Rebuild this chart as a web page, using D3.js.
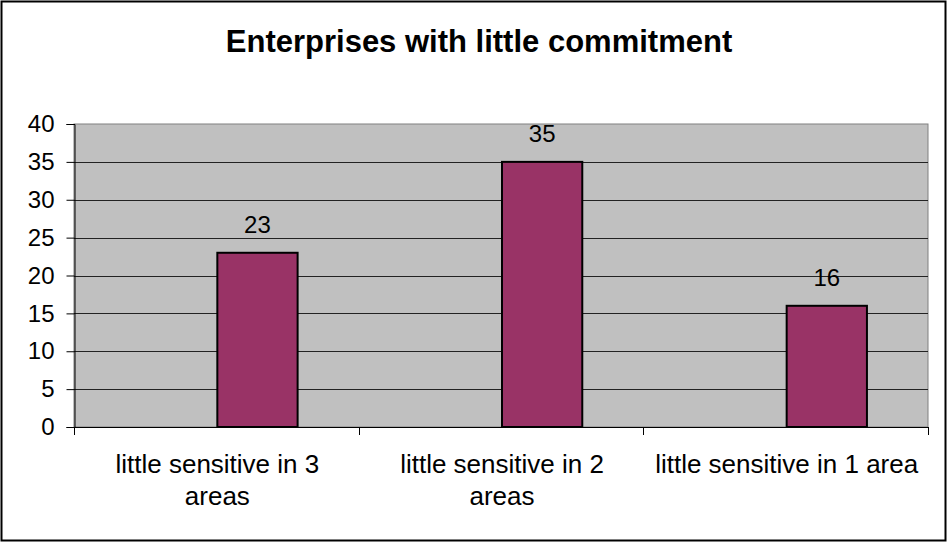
<!DOCTYPE html>
<html>
<head>
<meta charset="utf-8">
<script src="https://cdn.jsdelivr.net/npm/d3@7"></script>
<style>
  html, body { margin: 0; padding: 0; background: #fff; }
  svg { display: block; font-family: "Liberation Sans", Arial, sans-serif; }
</style>
</head>
<body>
<svg id="chart" width="947" height="542"></svg>
<script>
const chartTitle = "Enterprises with little commitment";
const categories = [["little sensitive in 3", "areas"], ["little sensitive in 2", "areas"], ["little sensitive in 1 area"]];
const values = [23, 35, 16];
const yTicks = [0, 5, 10, 15, 20, 25, 30, 35, 40];

const svg = d3.select("#chart");
const W = 947, H = 542;
const plot = { left: 74, right: 928, top: 124, bottom: 427 };

// outer frame
svg.append("rect").attr("x", 1.5).attr("y", 1.5).attr("width", W - 3).attr("height", H - 3)
  .attr("fill", "#fff").attr("stroke", "#000").attr("stroke-width", 2);

svg.append("text").attr("x", 479).attr("y", 52).attr("text-anchor", "middle")
  .attr("font-size", 31).attr("font-weight", "bold").text(chartTitle);

const x = d3.scaleBand().domain(d3.range(categories.length)).range([plot.left, plot.right]).padding(0);
const y = d3.scaleLinear().domain([0, 40]).range([plot.bottom, plot.top]);

// plot background
svg.append("rect").attr("x", plot.left).attr("y", plot.top)
  .attr("width", plot.right - plot.left).attr("height", plot.bottom - plot.top)
  .attr("fill", "#c0c0c0").attr("stroke", "#808080").attr("stroke-width", 1);

// gridlines
svg.append("g").selectAll("line").data(yTicks.filter(t => t > 0 && t < 40)).join("line")
  .attr("x1", plot.left).attr("x2", plot.right)
  .attr("y1", d => Math.round(y(d)) + 0.5).attr("y2", d => Math.round(y(d)) + 0.5)
  .attr("stroke", "#222").attr("stroke-width", 1);

// y axis
const yAxis = svg.append("g").attr("transform", `translate(${plot.left + 0.5},0)`)
  .call(d3.axisLeft(y).tickValues(yTicks).tickSize(8).tickPadding(12));
yAxis.select(".domain").attr("stroke", "#000");
yAxis.selectAll(".tick line").attr("stroke", "#000");
yAxis.selectAll("text").attr("font-size", 24).attr("fill", "#000")
  .attr("font-family", "Liberation Sans, Arial, sans-serif");

// x axis
const xAxisG = svg.append("g");
xAxisG.append("line").attr("x1", plot.left).attr("x2", plot.right)
  .attr("y1", plot.bottom + 0.5).attr("y2", plot.bottom + 0.5).attr("stroke", "#000");
const bounds = d3.range(categories.length + 1).map(i => i < categories.length ? x(i) : x(i - 1) + x.bandwidth());
xAxisG.selectAll("line.tk").data(bounds).join("line").attr("class", "tk")
  .attr("x1", d => Math.round(d) + 0.5).attr("x2", d => Math.round(d) + 0.5)
  .attr("y1", plot.bottom).attr("y2", plot.bottom + 8).attr("stroke", "#000");

const labels = svg.append("g").selectAll("text").data(categories).join("text")
  .attr("text-anchor", "middle").attr("font-size", 26).attr("fill", "#000")
  .attr("transform", (d, i) => `translate(${x(i) + x.bandwidth() / 2 + 1},0)`);
labels.selectAll("tspan").data(d => d).join("tspan")
  .attr("x", 0).attr("y", (d, j) => 473 + j * 32).text(d => d);

// bars
const barW = x.bandwidth() * 0.282;
const barX = i => x(i) + x.bandwidth() / 2 + 1;
svg.append("g").selectAll("rect").data(values).join("rect")
  .attr("x", (d, i) => barX(i)).attr("y", d => y(d))
  .attr("width", barW).attr("height", d => y(0) - y(d))
  .attr("fill", "#993366").attr("stroke", "#000").attr("stroke-width", 2);

// value labels
svg.append("g").selectAll("text").data(values).join("text")
  .attr("x", (d, i) => barX(i) + barW / 2).attr("y", d => y(d) - 20)
  .attr("text-anchor", "middle").attr("font-size", 24).attr("fill", "#000").text(d => d);
</script>
</body>
</html>
